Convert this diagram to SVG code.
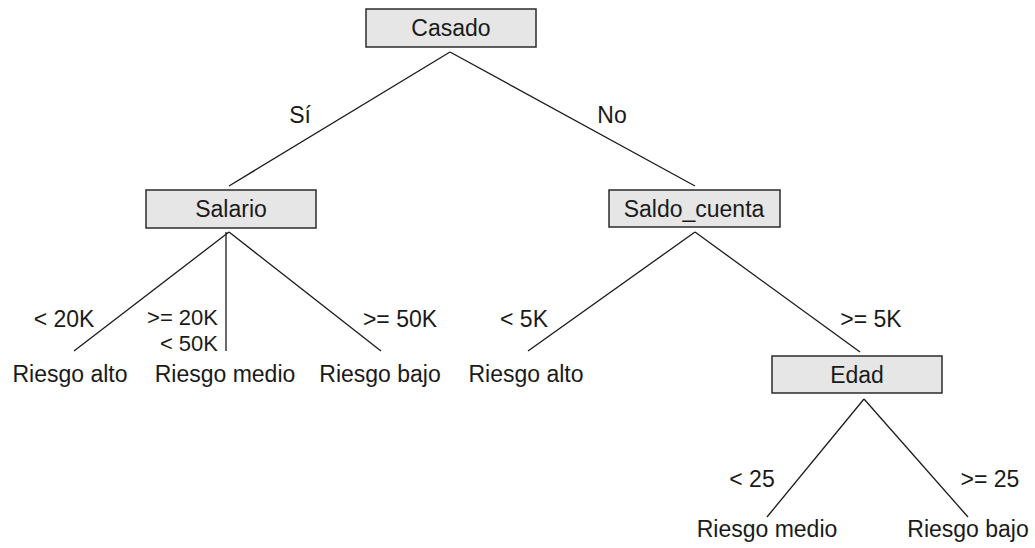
<svg xmlns="http://www.w3.org/2000/svg" width="1035" height="548" viewBox="0 0 1035 548">
<style>
.box{fill:#e6e6e6;stroke:#2b2b2b;stroke-width:1.5}
.t{font-family:"Liberation Sans",Arial,sans-serif;font-size:23px;fill:#1a1a1a}
.s{font-size:22px}
.c{text-anchor:middle}
.e{text-anchor:end}
.ln{stroke:#1a1a1a;stroke-width:1.3;fill:none}
</style>
<rect width="1035" height="548" fill="#ffffff"/>
<g id="connectors">
<line class="ln" x1="450" y1="52" x2="229" y2="186"/>
<line class="ln" x1="450" y1="52" x2="695" y2="186"/>
<line class="ln" x1="229" y1="232" x2="74" y2="351"/>
<line class="ln" x1="226" y1="232" x2="226" y2="351"/>
<line class="ln" x1="229" y1="232" x2="381" y2="351"/>
<line class="ln" x1="695" y1="232" x2="528" y2="351"/>
<line class="ln" x1="695" y1="232" x2="860" y2="352"/>
<line class="ln" x1="864" y1="399" x2="767" y2="517"/>
<line class="ln" x1="864" y1="399" x2="968" y2="517"/>
<text class="t c" x="300" y="123">Sí</text>
<text class="t c" x="612" y="123">No</text>
<text class="t c" x="64" y="327">&lt; 20K</text>
<text class="t s e" x="218" y="325">&gt;= 20K</text>
<text class="t s e" x="218" y="351">&lt; 50K</text>
<text class="t c" x="400" y="327">&gt;= 50K</text>
<text class="t c" x="524" y="327">&lt; 5K</text>
<text class="t c" x="871" y="327">&gt;= 5K</text>
<text class="t c" x="752" y="487">&lt; 25</text>
<text class="t c" x="990" y="487">&gt;= 25</text>
</g>
<g id="casado">
<rect class="box" x="366" y="9" width="170" height="38"/>
<text class="t c" x="451" y="36">Casado</text>
</g>
<g id="salario">
<rect class="box" x="146" y="190" width="170" height="38"/>
<text class="t c" x="231" y="217">Salario</text>
</g>
<g id="saldo_cuenta">
<rect class="box" x="609" y="190" width="171" height="37"/>
<text class="t c" x="694" y="217">Saldo_cuenta</text>
</g>
<g id="edad">
<rect class="box" x="772" y="356" width="170" height="37"/>
<text class="t c" x="857" y="383">Edad</text>
</g>
<g id="leaf1"><text class="t c" x="70" y="382">Riesgo alto</text></g>
<g id="leaf2"><text class="t c" x="225" y="382">Riesgo medio</text></g>
<g id="leaf3"><text class="t c" x="380" y="382">Riesgo bajo</text></g>
<g id="leaf4"><text class="t c" x="526" y="382">Riesgo alto</text></g>
<g id="leaf5"><text class="t c" x="767" y="537">Riesgo medio</text></g>
<g id="leaf6"><text class="t c" x="968" y="537">Riesgo bajo</text></g>
</svg>
